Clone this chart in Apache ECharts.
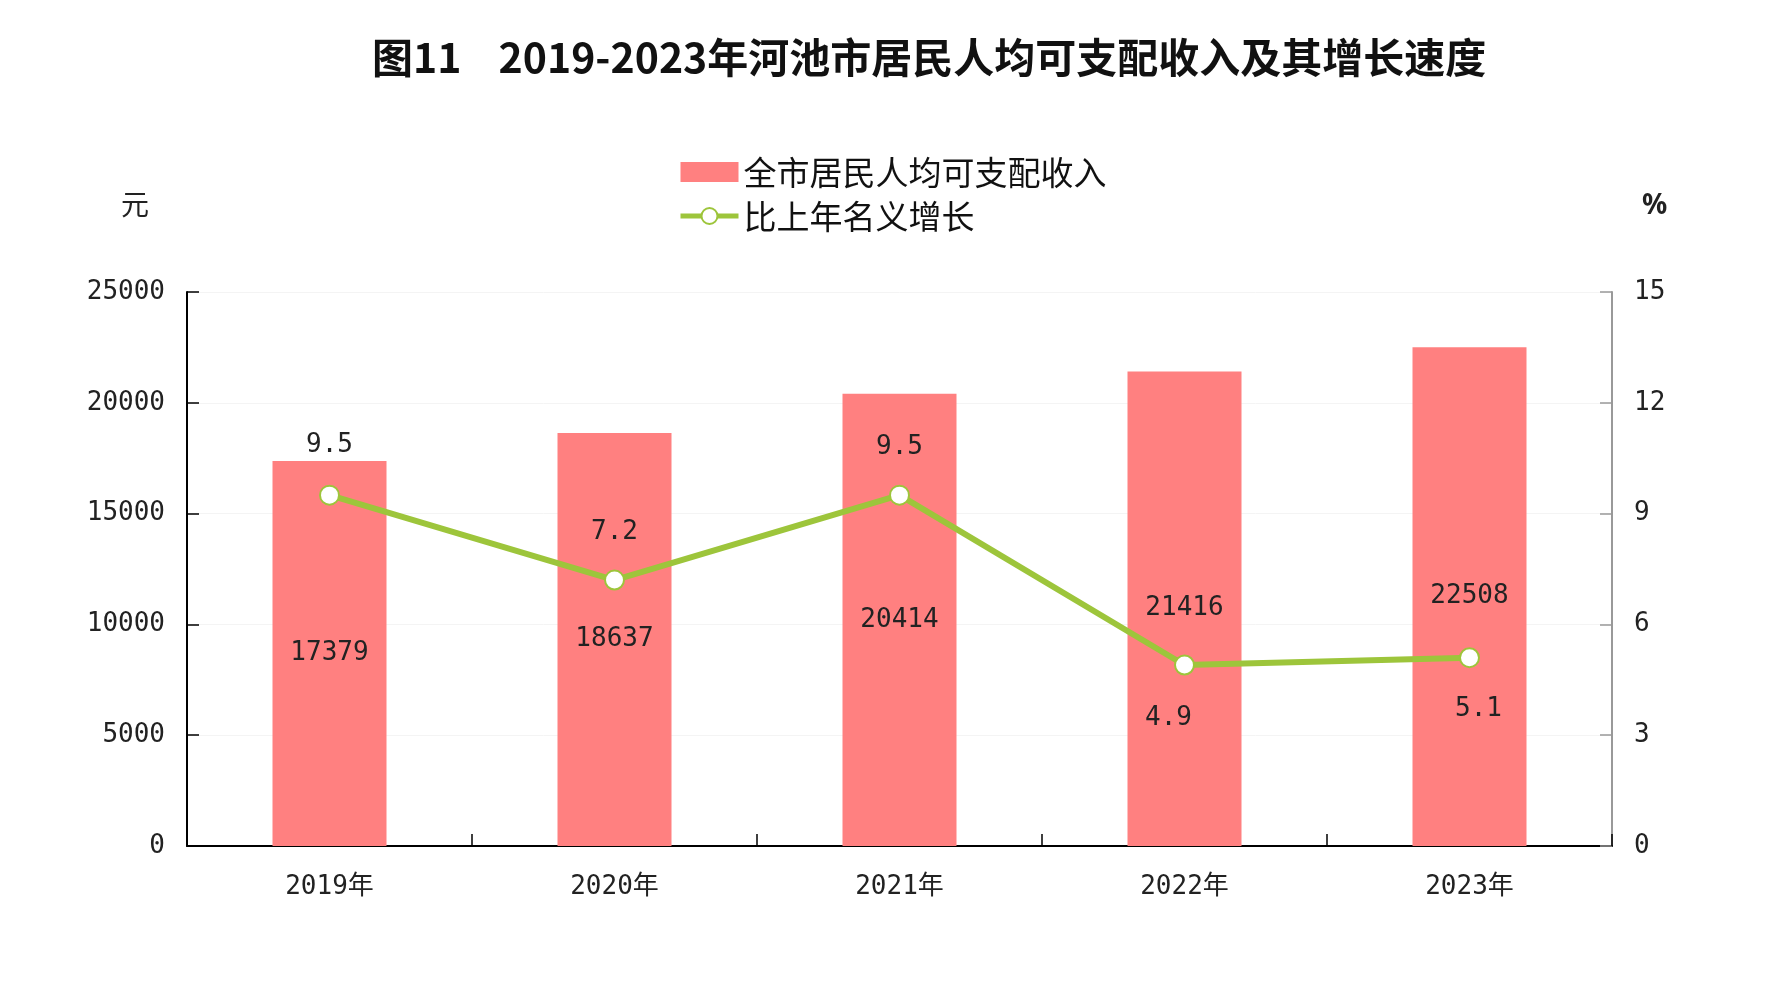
<!DOCTYPE html>
<html>
<head>
<meta charset="utf-8">
<title>河池市居民人均可支配收入</title>
<script src="https://cdn.jsdelivr.net/npm/echarts@6/dist/echarts.min.js"></script>
<style>
  html, body { margin: 0; padding: 0; background: #fff; }
  #main { width: 1779px; height: 996px; }
</style>
</head>
<body>
<div id="main"></div>
<script>
// data
var years = ['2019年', '2020年', '2021年', '2022年', '2023年'];
var income = [17379, 18637, 20414, 21416, 22508];   // 元
var growth = [9.5, 7.2, 9.5, 4.9, 5.1];              // %

var barColor = '#ff8080';
var lineColor = '#9dc53b';
var numFont = '"DejaVu Sans Mono", "Noto Sans CJK SC", monospace';

// where each growth label sits (above / below the point)
var growthLabel = [
    { position: 'top', distance: 26, offset: [0, 0] },
    { position: 'top', distance: 24, offset: [0, 0] },
    { position: 'top', distance: 24, offset: [0, 0] },
    { position: 'bottom', distance: 30, offset: [-16, 0] },
    { position: 'bottom', distance: 28, offset: [9, 0] }
];

var myChart = echarts.init(document.getElementById('main'));

var option = {
    backgroundColor: '#fff',
    animation: false,
    title: {
        text: '图11    2019-2023年河池市居民人均可支配收入及其增长速度',
        left: 367,
        top: 32,
        textStyle: {
            fontFamily: '"Noto Sans CJK SC", sans-serif',
            fontWeight: 'bold',
            fontSize: 41,
            color: '#111'
        }
    },
    legend: {
        orient: 'vertical',
        left: 673,
        top: 150,
        itemWidth: 58,
        itemHeight: 20,
        itemGap: 10,
        textStyle: {
            fontFamily: '"Noto Sans CJK SC", sans-serif',
            fontSize: 33,
            lineHeight: 34,
            color: '#111'
        },
        data: [
            { name: '全市居民人均可支配收入', icon: 'rect' },
            { name: '比上年名义增长', lineStyle: { width: 5 }, itemStyle: { borderWidth: 3 } }
        ]
    },
    grid: {
        left: 187,
        right: 167,
        top: 292,
        bottom: 150
    },
    xAxis: {
        type: 'category',
        data: years,
        axisLine: { lineStyle: { color: '#000', width: 2 } },
        axisTick: { show: true, inside: true, length: 12, lineStyle: { color: '#000', width: 1.5 } },
        axisLabel: {
            margin: 28,
            fontFamily: numFont,
            fontSize: 26,
            color: '#222'
        }
    },
    yAxis: [{
        type: 'value',
        min: 0,
        max: 25000,
        interval: 5000,
        name: '元',
        nameLocation: 'end',
        nameGap: 74,
        nameTextStyle: {
            fontFamily: '"Noto Sans CJK SC", sans-serif',
            fontSize: 28,
            color: '#222',
            align: 'right',
            padding: [0, 38, 0, 0]
        },
        axisLine: { show: true, lineStyle: { color: '#000', width: 2 } },
        axisTick: { show: true, inside: true, length: 12, lineStyle: { color: '#000', width: 1.5 } },
        axisLabel: {
            margin: 22,
            fontFamily: numFont,
            fontSize: 26,
            color: '#222',
            formatter: function (v) { return String(v); }
        },
        splitLine: { show: true, lineStyle: { color: '#f4f4f4', width: 1 } }
    }, {
        type: 'value',
        min: 0,
        max: 15,
        interval: 3,
        name: '%',
        nameLocation: 'end',
        nameGap: 72,
        nameTextStyle: {
            fontFamily: '"Noto Sans", sans-serif',
            fontSize: 28,
            fontWeight: 'bold',
            color: '#222',
            align: 'left',
            padding: [0, 0, 0, 30]
        },
        axisLine: { show: true, lineStyle: { color: '#999', width: 2 } },
        axisTick: { show: true, inside: true, length: 12, lineStyle: { color: '#999', width: 1.5 } },
        axisLabel: {
            margin: 22,
            fontFamily: numFont,
            fontSize: 26,
            color: '#222'
        },
        splitLine: { show: false }
    }],
    series: [{
        name: '全市居民人均可支配收入',
        type: 'bar',
        yAxisIndex: 0,
        barWidth: '40%',
        itemStyle: { color: barColor },
        label: {
            show: true,
            position: 'inside',
            fontFamily: numFont,
            fontSize: 26,
            color: '#222'
        },
        data: income
    }, {
        name: '比上年名义增长',
        type: 'line',
        yAxisIndex: 1,
        symbol: 'emptyCircle',
        symbolSize: 19,
        lineStyle: { color: lineColor, width: 6 },
        itemStyle: { color: lineColor, borderColor: lineColor, borderWidth: 3 },
        z: 5,
        data: growth.map(function (v, i) {
            return {
                value: v,
                label: growthLabel[i]
            };
        }),
        label: {
            show: true,
            fontFamily: numFont,
            fontSize: 26,
            color: '#222'
        }
    }]
};

myChart.setOption(option);
</script>
</body>
</html>
